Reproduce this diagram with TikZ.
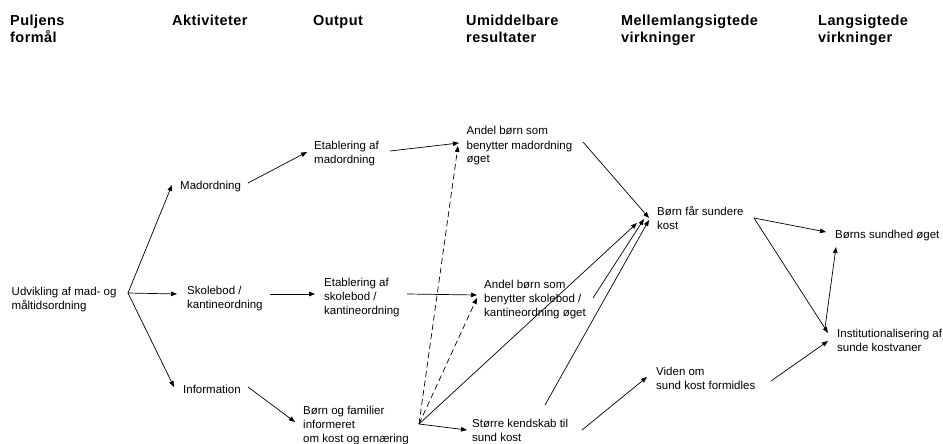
\documentclass[tikz,border=0pt]{standalone}
\usepackage{fontspec}
\setmainfont{Liberation Sans}
\usetikzlibrary{arrows.meta}
\newcommand\bodyfont{\fontsize{11.5}{14}\selectfont}
\newcommand\headfont{\fontsize{14.5}{16.5}\selectfont\bfseries\addfontfeature{LetterSpace=3}}
\newcommand\mylines[1]{\begin{tabular}[t]{@{}l@{}}#1\end{tabular}}
\tikzset{
  txt/.style={anchor=base west, inner sep=0pt, font=\bodyfont},
  hd/.style={anchor=base west, inner sep=0pt, font=\headfont},
  arr/.style={-{Triangle[length=6pt,width=4.5pt]}, line width=0.7pt},
  darr/.style={arr, dash pattern=on 6pt off 3.5pt}
}
\begin{document}
\begin{tikzpicture}[x=1pt,y=-1pt]
\useasboundingbox (0,0) rectangle (943,444);
\fill[white] (0,0) rectangle (943,444);
% headers
\node[hd] (h1) at (10,26) {\mylines{Puljens\\formål}};
\node[hd] (h2) at (172,26) {\mylines{Aktiviteter}};
\node[hd] (h3) at (313,26) {\mylines{Output}};
\node[hd] (h4) at (466,26) {\mylines{Umiddelbare\\resultater}};
\node[hd] (h5) at (621,26) {\mylines{Mellemlangsigtede\\virkninger}};
\node[hd] (h6) at (818,26) {\mylines{Langsigtede\\virkninger}};
% text nodes
\node[txt] (udv) at (11.5,295) {\mylines{Udvikling af mad- og\\måltidsordning}};
\node[txt] (mad) at (180,189) {\mylines{Madordning}};
\node[txt] (skole) at (187,294) {\mylines{Skolebod /\\kantineordning}};
\node[txt] (info) at (183,393) {\mylines{Information}};
\node[txt] (etmad) at (314,149) {\mylines{Etablering af\\madordning}};
\node[txt] (etsk) at (324,286) {\mylines{Etablering af\\skolebod /\\kantineordning}};
\node[txt] (bfam) at (303,414.5) {\mylines{Børn og familier\\informeret\\om kost og ernæring}};
\node[txt] (andmad) at (466.5,135) {\mylines{Andel børn som\\benytter madordning\\øget}};
\node[txt] (andsk) at (484,288) {\mylines{Andel børn som\\benytter skolebod /\\kantineordning øget}};
\node[txt] (stor) at (472,427) {\mylines{Større kendskab til\\sund kost}};
\node[txt] (bfs) at (657,215) {\mylines{Børn får sundere\\kost}};
\node[txt] (viden) at (656,375) {\mylines{Viden om\\sund kost formidles}};
\node[txt] (bsund) at (835,238) {\mylines{Børns sundhed øget}};
\node[txt] (inst) at (837,337) {\mylines{Institutionalisering af\\sunde kostvaner}};
% connector end points
\coordinate (j0) at (128,293);
\coordinate (madin) at (172,185);
\coordinate (skin) at (177,294);
\coordinate (infin) at (174,387);
\coordinate (madout) at (248,183);
\coordinate (etmadin) at (307,152);
\coordinate (skout) at (270,294);
\coordinate (etskin) at (315,294);
\coordinate (infout) at (248,387);
\coordinate (bfamin) at (295,422);
\coordinate (etmadout) at (390,151);
\coordinate (andmadin) at (459,143);
\coordinate (etskout) at (407,294);
\coordinate (andskin) at (477,295);
\coordinate (j1) at (419,424);
\coordinate (andmadin2) at (458,146);
\coordinate (andskin2) at (477,298);
\coordinate (storin) at (467,430);
\coordinate (bfsin1) at (637,223);
\coordinate (andmadout) at (583,142);
\coordinate (bfsin2) at (649,218);
\coordinate (andskout) at (593,298);
\coordinate (bfsin3) at (644,219);
\coordinate (storout1) at (545,405);
\coordinate (bfsin4) at (649,220);
\coordinate (storout2) at (582,430);
\coordinate (vidin) at (647,377);
\coordinate (vidout) at (771,381);
\coordinate (instin2) at (828,341);
\coordinate (bfsout) at (754,218);
\coordinate (bsundin) at (826,232);
\coordinate (instin1) at (828,333);
\coordinate (instout) at (825,328);
\coordinate (bsundin2) at (836,247);
% connectors
\draw[arr] (j0) -- (madin);
\draw[arr] (j0) -- (skin);
\draw[arr] (j0) -- (infin);
\draw[arr] (madout) -- (etmadin);
\draw[arr] (skout) -- (etskin);
\draw[arr] (infout) -- (bfamin);
\draw[arr] (etmadout) -- (andmadin);
\draw[arr] (etskout) -- (andskin);
\draw[darr] (j1) -- (andmadin2);
\draw[darr] (j1) -- (andskin2);
\draw[arr] (j1) -- (storin);
\draw[arr] (j1) -- (bfsin1);
\draw[arr] (andmadout) -- (bfsin2);
\draw[arr] (andskout) -- (bfsin3);
\draw[arr] (storout1) -- (bfsin4);
\draw[arr] (storout2) -- (vidin);
\draw[arr] (vidout) -- (instin2);
\draw[arr] (bfsout) -- (bsundin);
\draw[arr] (bfsout) -- (instin1);
\draw[arr] (instout) -- (bsundin2);
\end{tikzpicture}
\end{document}
